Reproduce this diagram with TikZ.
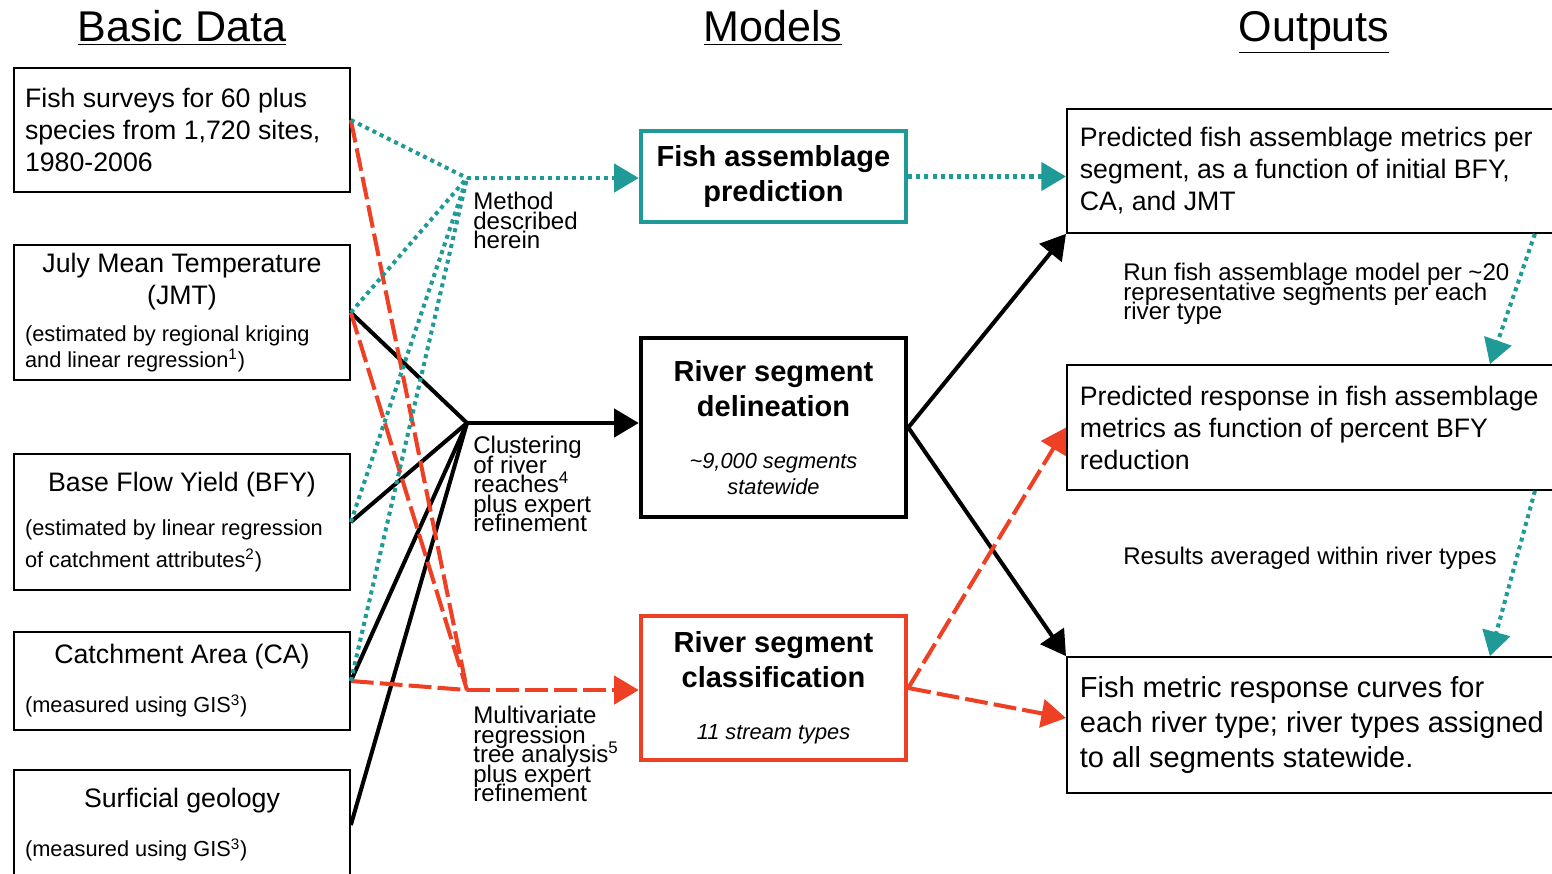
\documentclass[tikz,border=0pt]{standalone}
\usepackage{fontspec}
\setmainfont{Liberation Sans}
\usetikzlibrary{arrows.meta}
\definecolor{fishteal}{RGB}{31,154,150}
\definecolor{fishred}{RGB}{238,64,36}
\newcommand\headfont{\fontsize{24.5}{29}\selectfont}
\newcommand\boxfont{\fontsize{15.2}{18.2}\selectfont}
\newcommand\bigboxfont{\fontsize{16.5}{19.9}\selectfont}
\newcommand\notefont{\fontsize{12.4}{14.8}\selectfont}
\newcommand\widenotefont{\fontsize{12.4}{18.2}\selectfont}
\newcommand\modelfont{\bfseries\fontsize{16.5}{19.9}\selectfont}
\newcommand\stepfont{\fontsize{13.7}{11.1}\selectfont\lineskiplimit=-20pt}
\tikzset{
	databox/.style={draw, line width=1pt, text width=6.28cm, inner xsep=0.22cm, inner ysep=0pt, align=flush left, font=\boxfont},
	modelbox/.style={draw, line width=2.6pt, text width=4.9cm, inner xsep=0.2cm, inner ysep=0pt, align=flush center},
	outbox/.style={draw, line width=1pt, anchor=west, text width=9.9cm, inner xsep=0.26cm, inner ysep=0pt, align=flush left, font=\boxfont},
	steplabel/.style={anchor=north west, inner sep=0pt, align=left, font=\stepfont},
	header/.style={anchor=base, inner sep=0pt, font=\headfont},
	blackline/.style={line width=2.3pt},
	tealline/.style={fishteal, line width=2.3pt, dash pattern=on 2.3pt off 2.3pt},
	redline/.style={fishred, line width=2.3pt, dash pattern=on 13pt off 3.5pt},
	headtip/.style={-{Triangle[length=14pt,width=16pt]}}
}

\begin{document}
\begin{tikzpicture}[x=0.02cm, y=-0.02cm]
	\useasboundingbox (0,0) rectangle (1552,873);
	\node[header] (headdata) at (182,41) {\underline{Basic Data}};
	\node[header] (headmodels) at (773,41) {\underline{Models}};
	\node[header] (headout) at (1314,41) {\underline{Outputs}};

	\node[databox, minimum height=2.48cm] (fish) at (182,130) {Fish surveys for 60 plus\\species from 1,720 sites,\\1980-2006};
	\node[databox, minimum height=2.7cm] (jmt) at (182,312.5) {{\centering July Mean Temperature\\(JMT)\par}\vspace{6.5pt}{\notefont (estimated by regional kriging\\and linear regression\textsuperscript{1})\par}};
	\node[databox, minimum height=2.72cm] (bfy) at (182,522) {{\centering Base Flow Yield (BFY)\par}\vspace{6.8pt}{\widenotefont (estimated by linear regression\\of catchment attributes\textsuperscript{2})\par}};
	\node[databox, minimum height=1.96cm] (ca) at (182,681) {{\centering Catchment Area (CA)\par}\vspace{13.1pt}{\notefont (measured using GIS\textsuperscript{3})\par}};
	\node[databox, minimum height=2.2cm] (geology) at (182,825) {{\centering Surficial geology\par}\vspace{13.1pt}{\notefont (measured using GIS\textsuperscript{3})\par}};

	\node[modelbox, draw=fishteal, minimum height=1.82cm, font=\modelfont] (fishpred) at (773.5,176.5) {Fish assemblage\\prediction};
	\node[modelbox, minimum height=3.58cm] (delin) at (773.5,427.5) {{\modelfont River segment\\delineation\par}\vspace{14.8pt}{\itshape\notefont \textasciitilde9,000 segments\\statewide\par}};
	\node[modelbox, draw=fishred, minimum height=2.88cm] (classif) at (773.5,688) {{\modelfont River segment\\classification\par}\vspace{14.8pt}{\itshape\notefont 11 stream types\par}};

	\node[outbox, minimum height=2.48cm] (out1) at (1066,171) {Predicted fish assemblage metrics per\\segment, as a function of initial BFY,\\CA, and JMT};
	\node[outbox, minimum height=2.5cm] (out2) at (1066,427.5) {Predicted response in fish assemblage\\metrics as function of percent BFY\\reduction};
	\node[outbox, minimum height=2.72cm, font=\bigboxfont] (out3) at (1066,725) {Fish metric response curves for\\each river type; river types assigned\\to all segments statewide.};

	\coordinate (methodhub) at (467,178);
	\coordinate (clusterhub) at (467,423);
	\coordinate (treehub) at (467,690);

	\draw[blackline] (jmt.east) -- (clusterhub);
	\draw[blackline] (bfy.east) -- (clusterhub);
	\draw[blackline] (ca.east) -- (clusterhub);
	\draw[blackline] (geology.east) -- (clusterhub);
	\draw[blackline, headtip] (clusterhub) -- (clusterhub -| delin.west);

	\draw[redline] ([yshift=0.2cm]fish.east) -- (treehub);
	\draw[redline] (jmt.east) -- (treehub);
	\draw[redline] (ca.east) -- (treehub);
	\draw[redline, headtip] (treehub) -- (treehub -| classif.west);

	\draw[tealline] ([yshift=0.2cm]fish.east) -- (methodhub);
	\draw[tealline] (jmt.east) -- (methodhub);
	\draw[tealline] (bfy.east) -- (methodhub);
	\draw[tealline] (ca.east) -- (methodhub);
	\draw[tealline, headtip] (methodhub) -- (methodhub -| fishpred.west);

	\node[steplabel] (method) at (473,192) {Method\\described\\herein};
	\node[steplabel] (cluster) at (473,436) {Clustering\\of river\\reaches\textsuperscript{4}\\plus expert\\refinement};
	\node[steplabel] (tree) at (473,706) {Multivariate\\regression\\tree analysis\textsuperscript{5}\\plus expert\\refinement};

	\draw[tealline, headtip] (fishpred.east) -- (fishpred.east -| out1.west);
	\draw[blackline, headtip] (delin.east) -- (out1.south west);
	\draw[blackline, headtip] (delin.east) -- (out3.north west);
	\draw[redline, headtip] (classif.east) -- (out2.west);
	\draw[redline, headtip] (classif.east) -- ([yshift=0.14cm]out3.west);

	\draw[tealline, headtip] ([xshift=9.38cm]out1.south west) -- ([xshift=8.48cm]out2.north west);
	\draw[tealline, headtip] ([xshift=9.38cm]out2.south west) -- ([xshift=8.48cm]out3.north west);
	\node[steplabel] (runmodel) at (1123,263) {Run fish assemblage model per \textasciitilde20\\representative segments per each\\river type};
	\node[steplabel] (average) at (1123,547) {Results averaged within river types};
\end{tikzpicture}
\end{document}
